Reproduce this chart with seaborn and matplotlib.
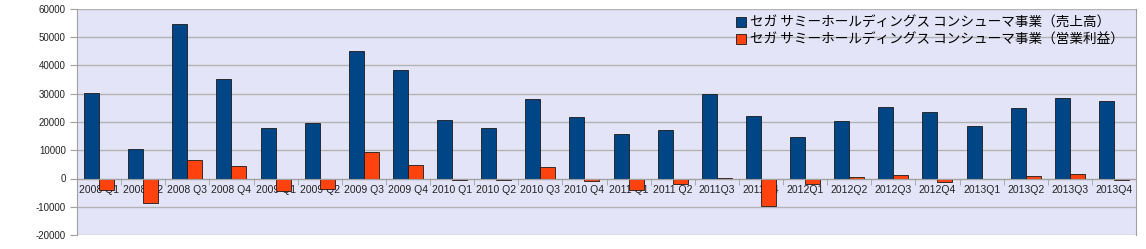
import numpy as np
import pandas as pd
import matplotlib
matplotlib.use('Agg')
import matplotlib.pyplot as plt
import seaborn as sns
from matplotlib.ticker import FixedLocator

quarters = ['2008 Q1', '2008 Q2', '2008 Q3', '2008 Q4',
            '2009 Q1', '2009 Q2', '2009 Q3', '2009 Q4',
            '2010 Q1', '2010 Q2', '2010 Q3', '2010 Q4',
            '2011 Q1', '2011 Q2', '2011Q3', '2011Q4',
            '2012Q1', '2012Q2', '2012Q3', '2012Q4',
            '2013Q1', '2013Q2', '2013Q3', '2013Q4']
sales = [30400, 10500, 54800, 35200, 17900, 19500, 45200, 38500,
         20600, 17800, 28000, 21700, 15800, 17200, 30000, 22000,
         14800, 20300, 25300, 23600, 18700, 24800, 28400, 27300]
profit = [-4200, -8500, 6700, 4600, -4500, -3800, 9500, 4800,
          -500, -600, 3900, -1000, -3900, -2100, 300, -9900,
          -1800, 600, 1300, -1400, -200, 1000, 1500, -700]
series_names = ['セガ サミーホールディングス コンシューマ事業（売上高）',
                'セガ サミーホールディングス コンシューマ事業（営業利益）']
colors = ['#004586', '#ff420e']
yticks = [-20000, -10000, 0, 10000, 20000, 30000, 40000, 50000, 60000]

df = pd.DataFrame({
    'quarter': quarters * 2,
    'value': sales + profit,
    'series': [series_names[0]] * len(quarters) + [series_names[1]] * len(quarters),
})

plt.rcParams['font.family'] = ['Liberation Sans', 'Noto Sans CJK JP', 'DejaVu Sans']

W, H = 1146, 249
fig = plt.figure(figsize=(W / 100, H / 100), dpi=100)
fig.patch.set_facecolor('white')
ax = fig.add_axes([77 / W, (H - 235) / H, (1136 - 77) / W, (235 - 9) / H])
ax.set_facecolor('#e4e4f8')

sns.barplot(data=df, x='quarter', y='value', hue='series', order=quarters,
            hue_order=series_names, palette=colors, saturation=1, width=0.68, gap=0,
            edgecolor='#1a1a1a', linewidth=0.6, ax=ax, legend=False)

ax.set_ylim(-20000, 60000)
ax.set_xlim(-0.5, len(quarters) - 0.5)
ax.set_yticks(yticks)
ax.set_yticklabels([str(v) for v in yticks], fontsize=7, color='#222222')
ax.yaxis.grid(True, color='#b3b3b3', linewidth=1)
ax.xaxis.grid(False)
ax.set_axisbelow(True)
ax.set_xlabel('')
ax.set_ylabel('')

ax.spines['top'].set_visible(False)
ax.spines['left'].set_color('#a0a0a0')
ax.spines['right'].set_color('#a0a0a0')
ax.spines['bottom'].set_position(('data', 0))
ax.spines['bottom'].set_color('#a0a0a0')

ax.tick_params(axis='y', length=5, color='#a0a0a0', pad=3)
ax.set_xticks(range(len(quarters)))
ax.set_xticklabels(quarters, fontsize=7.5, color='#222222')
ax.tick_params(axis='x', which='major', length=0, pad=5)
ax.xaxis.set_minor_locator(FixedLocator(np.arange(-0.5, len(quarters), 1.0)))
ax.tick_params(axis='x', which='minor', length=4, color='#a0a0a0', direction='out')

handles = [plt.Rectangle((0, 0), 1, 1, facecolor=c, edgecolor='#1a1a1a', linewidth=0.6)
           for c in colors]
ax.legend(handles, series_names, loc='upper right', frameon=False,
          prop={'family': ['Noto Sans CJK JP', 'DejaVu Sans'], 'size': 9.8},
          handlelength=0.75, handleheight=0.75, handletextpad=0.3,
          labelspacing=0.2, borderaxespad=0.1, bbox_to_anchor=(0.995, 1.0))

fig.savefig('out.png', dpi=100, facecolor='white')
